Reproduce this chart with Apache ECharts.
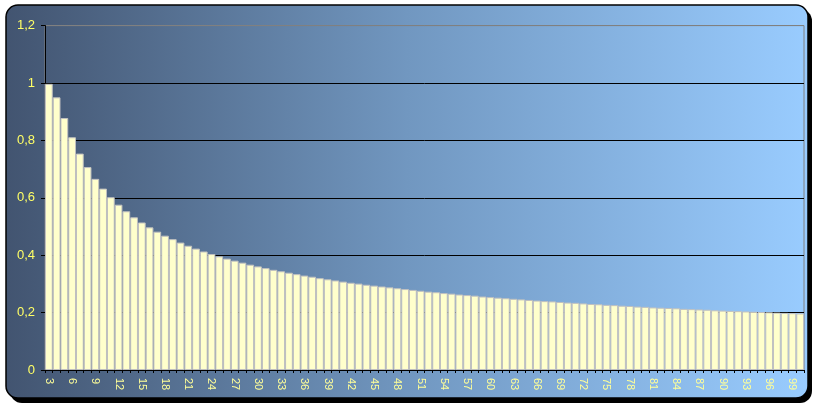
<!DOCTYPE html>
<html>
<head>
<meta charset="utf-8">
<script src="https://cdn.jsdelivr.net/npm/echarts@6/dist/echarts.min.js"></script>
<style>
html,body{margin:0;padding:0;background:#ffffff;}
#c{width:821px;height:409px;}
</style>
</head>
<body>
<div id="c"></div>
<script>
// categories: n = 3 .. 100
var categories = [];
for (var n = 3; n <= 100; n++) categories.push(String(n));
// values (bar heights)
var values = [
0.997,0.950,0.878,0.811,0.754,0.707,0.666,0.632,0.602,0.576,
0.553,0.532,0.514,0.497,0.482,0.468,0.456,0.444,0.433,0.423,
0.413,0.404,0.396,0.388,0.381,0.374,0.367,0.361,0.355,0.349,
0.344,0.339,0.334,0.329,0.325,0.320,0.316,0.312,0.308,0.304,
0.301,0.297,0.294,0.291,0.288,0.285,0.282,0.279,0.276,0.273,
0.271,0.268,0.266,0.263,0.261,0.259,0.256,0.254,0.252,0.250,
0.248,0.246,0.244,0.242,0.240,0.239,0.237,0.235,0.234,0.232,
0.230,0.229,0.227,0.226,0.224,0.223,0.221,0.220,0.218,0.217,
0.216,0.215,0.213,0.212,0.211,0.210,0.208,0.207,0.206,0.205,
0.204,0.203,0.202,0.201,0.200,0.199,0.198,0.197
];
var yTickLabels = ['0', '0,2', '0,4', '0,6', '0,8', '1', '1,2'];

var chart = echarts.init(document.getElementById('c'), null, {renderer: 'canvas'});
var font = '"Liberation Sans", Arial, sans-serif';
chart.setOption({
  animation: false,
  graphic: [
    {type: 'rect', z: -10, shape: {x: 10, y: 9, width: 802, height: 394, r: 12}, style: {fill: '#000000'}},
    {type: 'rect', z: -9, shape: {x: 6, y: 5, width: 802, height: 393, r: 12},
      style: {
        fill: new echarts.graphic.LinearGradient(0, 0, 1, 0, [
          {offset: 0, color: '#425470'},
          {offset: 0.5, color: '#7197c0'},
          {offset: 1, color: '#99ccff'}
        ]),
        stroke: '#000000', lineWidth: 1.5
      }}
  ],
  grid: {left: 45, right: 17, top: 25.6, bottom: 39, show: true, borderColor: '#808080', borderWidth: 1, backgroundColor: 'transparent'},
  xAxis: {
    type: 'category',
    data: categories,
    boundaryGap: true,
    axisLine: {lineStyle: {color: '#000000', width: 1}},
    axisTick: {show: true, interval: 0, length: 3, lineStyle: {color: '#000000'}},
    axisLabel: {interval: 2, rotate: -90, color: '#ffff99', fontSize: 11, fontFamily: font, margin: 8}
  },
  yAxis: {
    type: 'value',
    min: 0, max: 1.2, interval: 0.2,
    axisLine: {show: true, lineStyle: {color: '#000000', width: 1}},
    axisTick: {show: true, length: 4, lineStyle: {color: '#000000'}},
    splitLine: {show: true, lineStyle: {color: ['#000000', '#000000', '#000000', '#000000', '#000000', '#000000', '#808080'], width: 1}},
    axisLabel: {color: '#ffff66', fontSize: 13, fontFamily: font, margin: 10,
      formatter: function (v, i) { return yTickLabels[i]; }}
  },
  series: [{
    type: 'bar',
    data: values,
    barCategoryGap: '0%',
    itemStyle: {color: '#ffffcc', borderColor: '#c0c0c0', borderWidth: 1}
  }]
});
</script>
</body>
</html>
